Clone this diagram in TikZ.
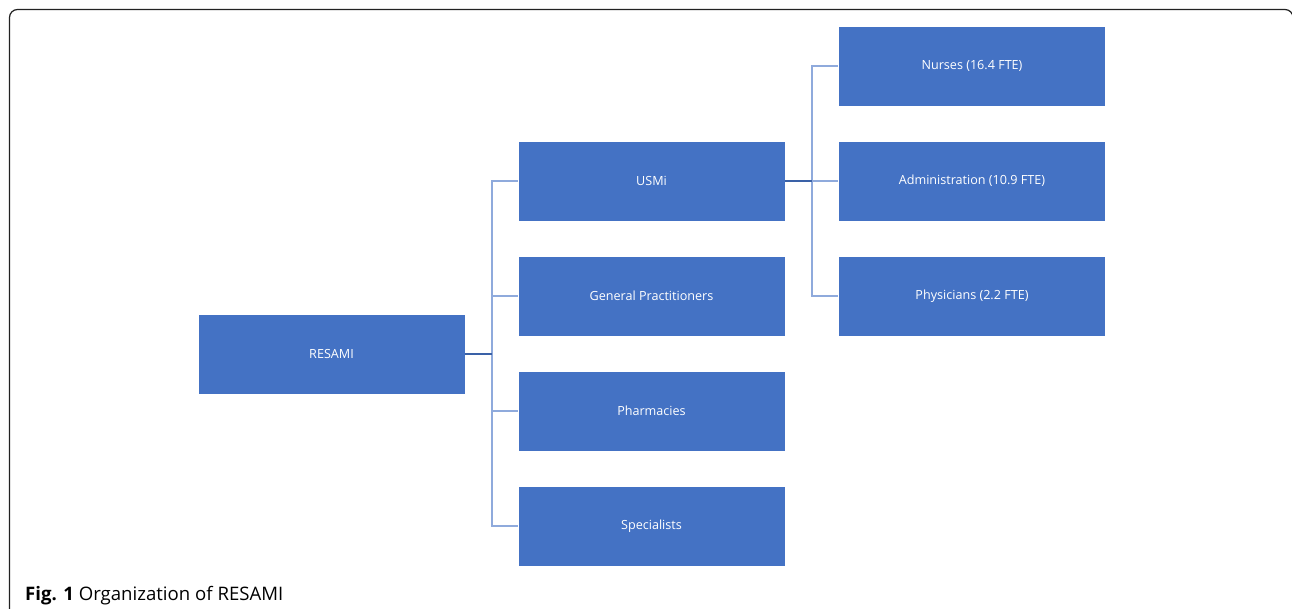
\documentclass[tikz,border=0pt]{standalone}
\usepackage{fontspec}
\setmainfont{Open Sans}
\definecolor{boxblue}{HTML}{4472C4}
\definecolor{linkblue}{HTML}{8FAADC}
\definecolor{framegray}{HTML}{222222}
\begin{document}
\begin{tikzpicture}[x=1pt,y=-1pt,
  orgbox/.style={draw=white,line width=0.6pt,fill=boxblue,minimum width=267pt,minimum height=80pt,inner sep=0pt,text=white,font=\fontsize{12.6}{15}\selectfont},
  link/.style={draw=linkblue,line width=1.3pt},
  stem/.style={draw=boxblue!85!black,line width=1.6pt}]
\useasboundingbox (0,0) rectangle (1292,609);
\draw[framegray,line width=1.2pt,rounded corners=8pt] (9.5,612) -- (9.5,9.5) -- (1293,9.5) -- (1293,612);
% nodes
\node[orgbox] (resami) at (331.5,354) {RESAMI};
\node[orgbox] (usmi) at (651.5,181) {USMi};
\node[orgbox] (gp) at (651.5,296) {General Practitioners};
\node[orgbox] (pharm) at (651.5,411) {Pharmacies};
\node[orgbox] (spec) at (651.5,526) {Specialists};
\node[orgbox] (nurses) at (972,66) {Nurses (16.4 FTE)};
\node[orgbox] (admin) at (972,181) {Administration (10.9 FTE)};
\node[orgbox] (phys) at (972,296) {Physicians (2.2 FTE)};
\coordinate (bus1) at (492,354);
\coordinate (bus2) at (812,181);
% connectors level 1
\draw[link] (usmi.west) -| (bus1);
\draw[link] (gp.west) -| (bus1);
\draw[link] (pharm.west) -| (bus1);
\draw[link] (spec.west) -| (bus1);
\draw[stem] (resami.east) -- (bus1);
% connectors level 2
\draw[link] (nurses.west) -| (bus2);
\draw[link] (admin.west) -- (bus2);
\draw[link] (phys.west) -| (bus2);
\draw[stem] (usmi.east) -- (bus2);
% caption
\node[anchor=base west,inner sep=0pt,font=\fontsize{18.6}{22}\selectfont] (cap) at (25,600) {\textbf{Fig. 1} Organization of RESAMI};
\end{tikzpicture}
\end{document}
